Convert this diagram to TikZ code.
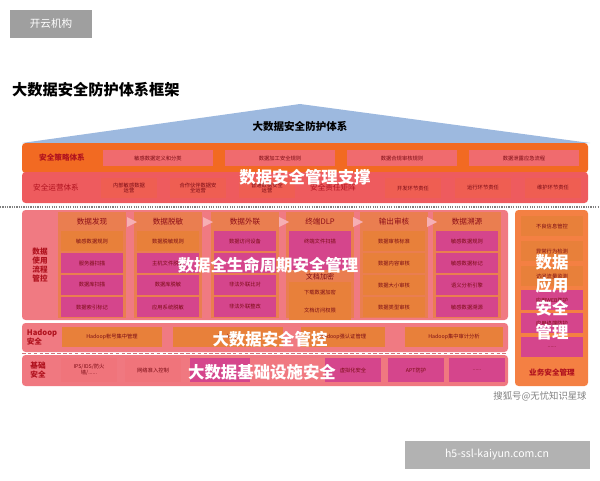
\documentclass[tikz,border=0pt]{standalone}
\usepackage{fontspec}
\setmainfont{Noto Sans CJK SC}
\usetikzlibrary{positioning}
\definecolor{roofblue}{HTML}{9DB9DF}
\definecolor{rowor}{HTML}{F26A22}
\definecolor{rowred}{HTML}{EE5B5E}
\definecolor{areapink}{HTML}{F07A82}
\definecolor{boxor}{HTML}{E8803A}
\definecolor{boxmag}{HTML}{D5458C}
\definecolor{lblred}{HTML}{B0121E}
\newcommand{\dotsix}{......}
\tikzset{
  cell/.style={draw=none, inner sep=0pt, minimum height=#1*0.03cm, font=\fontsize{4.5}{5}\selectfont, text=lblred!70!black, align=center},
  cell/.default=20,
  orcell/.style={cell, fill=boxor},
  magcell/.style={cell, fill=boxmag},
  rowlabel/.style={font=\bfseries\fontsize{6.5}{7.5}\selectfont, text=lblred, align=center},
  overlay/.style={font=\bfseries\fontsize{14}{16}\selectfont, text=white},
  colhead/.style={font=\fontsize{6.5}{7}\selectfont, text=lblred!80!black},
  band/.style={rounded corners=3pt, draw=none}
}
\begin{document}
\begin{tikzpicture}[x=0.03cm, y=-0.03cm]
  \useasboundingbox (0,0) rectangle (600,480);
  % header tags
  \node[fill=gray!75, text=white, minimum width=82*0.03cm, minimum height=28*0.03cm, font=\fontsize{9}{10}\selectfont] (tag) at (51,24) {开云机构};
  \node[anchor=west, font=\bfseries\fontsize{13}{15}\selectfont] (title) at (8,90) {大数据安全防护体系框架};
  % roof
  \fill[roofblue] (22,143) -- (300,104) -- (590,143) -- cycle;
  \node[font=\bfseries\fontsize{9}{10}\selectfont] (roof) at (300,126) {大数据安全防护体系};
  % management support
  \fill[rowor, band] (22,143) rectangle (588,173);
  \fill[rowred, band] (22,172) rectangle (588,203);
  \node[rowlabel, text=lblred] (policy) at (62,158) {安全策略体系};
  \node[rowlabel, font=\fontsize{6.5}{7.5}\selectfont] (ops) at (56,188) {安全运营体系};
  \foreach \x/\t in {158/敏感数据定义和分类, 280/数据加工安全规则, 402/数据合规审核规则, 524/数据泄露应急流程}
    \node[cell=16, fill=rowred!90!white, minimum width=110*0.03cm] at (\x,158) {\t};
  \foreach \x/\t in {129/{内部敏感数据\\运营}, 198/{合作伙伴数据安\\全运营}, 267/{普通数据安全\\运营}, 413/开发环节责任, 483/运行环节责任, 553/维护环节责任}
    \node[cell=20, fill=rowred!80!rowor, minimum width=56*0.03cm] at (\x,188) {\t};
  \node[font=\fontsize{6.5}{7.5}\selectfont, text=lblred] (matrix) at (333,188) {安全责任矩阵};
  \node[overlay] (mgmt) at (305,177) {数据安全管理支撑};
  \draw[gray, densely dotted, line width=1pt] (0,207) -- (600,207);
  % lifecycle area
  \fill[areapink, band] (22,210) rectangle (508,320);
  \node[rowlabel] (usage) at (40,265) {数据\\使用\\流程\\管控};
  \foreach \i/\x/\h in {1/92/数据发现, 2/168/数据脱敏, 3/245/数据外联, 4/320/终端DLP, 5/394/输出审核, 6/467/数据溯源}{
    \fill[boxor!70!areapink] (\x-34,212) rectangle (\x+34,318);
    \node[colhead] (h\i) at (\x,222) {\h};
  }
  \foreach \x in {131,207,283,357,431}
    \fill[areapink!60!white] (\x-4,217) -- (\x+6,222) -- (\x-4,227) -- cycle;
  \foreach \x/\a/\b/\c/\d in {92/敏感数据规则/服务器扫描/数据库扫描/数据索引标记,
      168/数据脱敏规则/主机文件脱敏/数据库脱敏/应用系统脱敏,
      245/数据访问设备/{}/非法外联比对/非法外联整改,
      467/敏感数据规则/敏感数据标记/语义分析引擎/敏感数据溯源}{
    \node[magcell, minimum width=62*0.03cm] at (\x,241) {\a};
    \node[magcell, minimum width=62*0.03cm] at (\x,263) {\b};
    \node[magcell, minimum width=62*0.03cm] at (\x,285) {\c};
    \node[magcell, minimum width=62*0.03cm] at (\x,307) {\d};
  }
  \node[orcell, minimum width=62*0.03cm] (disc1) at (92,241) {敏感数据规则};
  \node[orcell, minimum width=62*0.03cm] (mask1) at (168,241) {数据脱敏规则};
  \foreach \y/\t in {241/数据审核标准, 263/数据内容审核, 285/数据大小审核, 307/数据类型审核}
    \node[orcell, minimum width=62*0.03cm] at (394,\y) {\t};
  \node[magcell, minimum width=62*0.03cm] (dlp1) at (320,241) {终端文件扫描};
  \node[magcell, minimum width=62*0.03cm] (dlp2) at (320,260) {};
  \node[font=\fontsize{6}{7}\selectfont, text=lblred!70!black] (dlp3) at (320,277) {文档加密};
  \node[orcell=16, minimum width=62*0.03cm] (dlp4) at (320,292) {下载数据加密};
  \node[orcell=16, minimum width=62*0.03cm] (dlp5) at (320,310) {文档访问权限};
  \node[overlay] (life) at (268,265) {数据全生命周期安全管理};
  % application security
  \fill[rowor!85!white, band] (515,210) rectangle (588,386);
  \foreach \y/\t/\s in {226/不良信息管控/boxor, 251/异常行为检测/boxor, 276/访问流量监测/boxor, 300/应用WEB防护/boxmag, 323/应用终端防护/boxmag, 347/\dotsix/boxmag}
    \node[cell=20, fill=\s, minimum width=62*0.03cm] at (552,\y) {\t};
  \node[rowlabel] (biz) at (552,373) {业务安全管理};
  \node[overlay, align=center, font=\bfseries\fontsize{14}{20}\selectfont] (appsec) at (552,297) {数据\\应用\\安全\\管理};
  % hadoop
  \fill[areapink, band] (22,323) rectangle (508,352);
  \node[rowlabel, align=left] (hadoop) at (42,337) {Hadoop\\安全};
  \foreach \x/\w/\t in {112/100/Hadoop帐号集中管理, 228/110/Hadoop, 343/84/Hadoop强认证管理, 454/98/Hadoop集中审计分析}
    \node[orcell, minimum width=\w*0.03cm] at (\x,337) {\t};
  \node[overlay] (ctrl) at (270,339) {大数据安全管控};
  \draw[lblred!60, densely dashed] (22,353) -- (508,353);
  % infrastructure
  \fill[areapink!95!rowred, band] (22,355) rectangle (508,386);
  \node[rowlabel] (base) at (38,370) {基础\\安全};
  \foreach \x/\w/\t/\s in {89/56/{IPS/IDS/防火\\墙/\dotsix}/areapink!80!rowred, 153/56/网络准入控制/areapink!80!rowred, 220/60/{}/boxmag, 353/56/虚拟化安全/boxmag, 416/56/APT防护/boxmag, 477/56/\dotsix/boxmag}
    \node[cell=24, fill=\s, minimum width=\w*0.03cm] at (\x,370) {\t};
  \node[overlay] (infra) at (262,372) {大数据基础设施安全};
  % footer
  \node[text=gray, font=\fontsize{8}{9}\selectfont] (mark) at (540,396) {搜狐号@无忧知识星球};
  \node[fill=gray!60, text=white, minimum width=185*0.03cm, minimum height=28*0.03cm, font=\fontsize{9}{10}\selectfont] (site) at (497,455) {h5-ssl-kaiyun.com.cn};
\end{tikzpicture}
\end{document}
